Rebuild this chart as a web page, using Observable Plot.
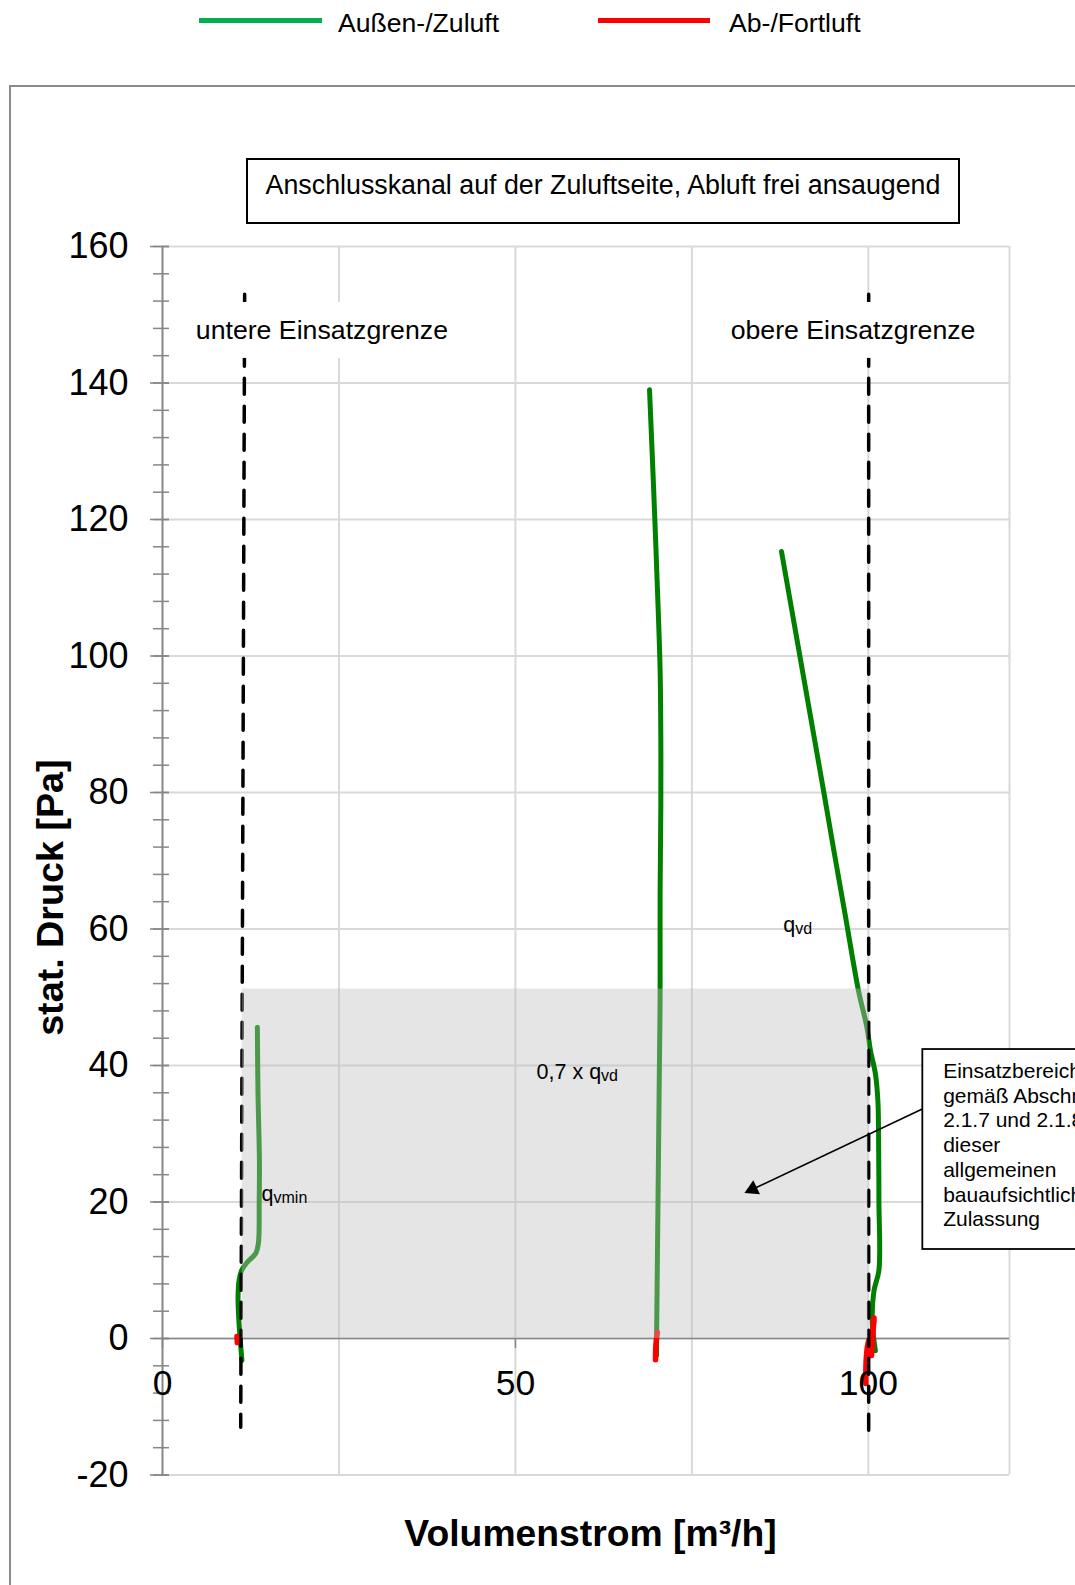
<!DOCTYPE html>
<html>
<head>
<meta charset="utf-8">
<script src="https://cdn.jsdelivr.net/npm/d3@7"></script>
<script src="https://cdn.jsdelivr.net/npm/@observablehq/plot@0.6"></script>
<style>
html, body { margin: 0; padding: 0; background: #fff; overflow: hidden; }
#page { position: relative; width: 1075px; height: 1585px; overflow: hidden; font-family: "Liberation Sans", Arial, sans-serif; color: #000; }
#frame { position: absolute; left: 9px; top: 85px; width: 1200px; height: 1700px; border: 2px solid #8a8a8a; box-sizing: border-box; }
.legline { position: absolute; top: 17.5px; height: 5px; }
.legtext { position: absolute; top: 10px; font-size: 26.6px; line-height: 26px; white-space: nowrap; }
#titlebox { position: absolute; left: 246px; top: 158px; width: 714px; height: 66px; border: 2px solid #000; box-sizing: border-box; background: #fff; }
#titlebox div { position: absolute; left: 0; right: 0; top: 12px; text-align: center; font-size: 26.8px; line-height: 26px; white-space: nowrap; }
#chart { position: absolute; left: 0; top: 0; }
</style>
</head>
<body>
<div id="page">
  <div id="frame"></div>
  <div id="chart"></div>
  <div class="legline" style="left:199px;width:123px;background:#00b050"></div>
  <div class="legtext" id="leg1" style="left:338px"></div>
  <div class="legline" style="left:598px;width:112px;background:#ff0000"></div>
  <div class="legtext" id="leg2" style="left:729px"></div>
  <div id="titlebox"><div id="title"></div></div>
</div>
<script>
// ---------- texts ----------
const legendLabels = ["Außen-/Zuluft", "Ab-/Fortluft"];
const chartTitle = "Anschlusskanal auf der Zuluftseite, Abluft frei ansaugend";
const xAxisTitle = "Volumenstrom [m³/h]";
const yAxisTitle = "stat. Druck [Pa]";
const limitLabels = ["untere Einsatzgrenze", "obere Einsatzgrenze"];
const rangeNote = "Einsatzbereich\ngemäß Abschnitt\n2.1.7 und 2.1.8\ndieser\nallgemeinen\nbauaufsichtlichen\nZulassung";

// ---------- axes ----------
const xDomain = [0, 120];
const yDomain = [-20, 160];
const xGrid = [25, 50, 75, 100, 120];
const xTickLabels = [0, 50, 100];
const yMajor = [-20, 0, 20, 40, 60, 80, 100, 120, 140, 160];
const yMinor = d3.range(-20, 161, 4);

// ---------- Außen-/Zuluft (green) ----------
const supplyMinX = [11.25, 11.0, 10.8, 10.7, 10.85, 11.22, 12.03, 13.2, 13.58, 13.7, 13.73, 13.53, 13.44];
const supplyMinY = [-3.2, 0, 3, 6, 8.5, 10.0, 11.2, 12.45, 13.9, 20, 26, 36, 45.6];
const supplyMidX = [70.0, 70.0, 70.1, 70.25, 70.4, 70.5, 70.5, 70.6, 70.6, 70.5, 70.2, 69.6, 69.0];
const supplyMidY = [-2.5, 0, 10, 25, 40, 50, 65.2, 78, 88.1, 97.9, 107.6, 124, 139];
const supplyMaxX = [101.0, 100.55, 100.8, 101.5, 101.5, 101.45, 101.35, 101.0, 100.3, 99.8, 98.6, 96.7, 95.2, 93.7, 92.0, 90.3, 87.7];
const supplyMaxY = [-1.8, 2.6, 7.0, 10.0, 20.2, 30, 34.9, 38.8, 42.2, 45.6, 51.0, 62.2, 71, 80, 90, 100, 115.3];

// ---------- Ab-/Fortluft (red) ----------
const exhaustMinX = [10.55, 10.6];
const exhaustMinY = [0.3, -0.6];
const exhaustMidX = [70.1, 69.9, 69.85];
const exhaustMidY = [0.9, -1.0, -3.1];
const exhaustMaxX = [100.8, 100.6, 100.0, 99.7, 99.65];
const exhaustMaxY = [3.0, 1.0, -0.5, -3.0, -6.6];
const exhaustMax2X = [100.75, 100.6, 100.45];
const exhaustMax2Y = [2.8, 0, -2.5];

// ---------- operating limits & range ----------
const lowerLimitX = [11.64, 11.08];
const lowerLimitY = [153, -13];
const upperLimitX = [100.05, 100.05];
const upperLimitY = [153, -13.5];
const rangeX = [11.3, 100];
const rangeY = [0, 51.2];

// ---------- build tables ----------
function rows(name, xs, ys) { return xs.map((x, i) => ({name, x, y: ys[i]})); }
const supplyRows = [
  ...rows("min", supplyMinX, supplyMinY),
  ...rows("mid", supplyMidX, supplyMidY),
  ...rows("max", supplyMaxX, supplyMaxY)
];
const exhaustRows = [
  ...rows("min", exhaustMinX, exhaustMinY),
  ...rows("mid", exhaustMidX, exhaustMidY),
  ...rows("max", exhaustMaxX, exhaustMaxY),
  ...rows("max2", exhaustMax2X, exhaustMax2Y)
];
const limitRows = [
  ...rows("lower", lowerLimitX, lowerLimitY),
  ...rows("upper", upperLimitX, upperLimitY)
];

// annotation anchors (data coordinates)
const limitLabelPos = [{x: 22.58, y: 146.5, x1: 3.97, x2: 41.09, t: limitLabels[0]},
                       {x: 97.83, y: 146.5, x1: 79.06, x2: 116.6, t: limitLabels[1]}];
const qLabels = [
  {x: 14.03, y: 20.2, main: "q", sub: "vmin", dx: 12},
  {x: 53.0, y: 37.95, main: "0,7 x q", sub: "vd", dx: 64.5},
  {x: 87.94, y: 59.5, main: "q", sub: "vd", dx: 12}
];
const noteBox = {x1: 107.72, x2: 130, y1: 13.04, y2: 42.34, tx: 110.6, ty: 40.73};
const noteArrow = {x1: 107.72, y1: 33.66, x2: 83.6, y2: 21.87, rotate: 244.7};

document.getElementById("leg1").textContent = legendLabels[0];
document.getElementById("leg2").textContent = legendLabels[1];
document.getElementById("title").textContent = chartTitle;

const gray = "#868686";
const grid = "#d9d9d9";

const chart = Plot.plot({
  width: 1075,
  height: 1585,
  marginLeft: 162,
  marginRight: 66,
  marginTop: 246,
  marginBottom: 110.5,
  x: {domain: xDomain, axis: null},
  y: {domain: yDomain, axis: null},
  style: {fontFamily: "'Liberation Sans', Arial, sans-serif", background: "transparent", color: "#000", overflow: "visible"},
  marks: [
    Plot.ruleX(xGrid, {x: d => d, y1: yDomain[0], y2: yDomain[1], stroke: grid, strokeWidth: 2}),
    Plot.ruleY(yMajor, {y: d => d, x1: xDomain[0], x2: xDomain[1], stroke: grid, strokeWidth: 2}),
    Plot.ruleY([0], {y: d => d, x1: xDomain[0], x2: xDomain[1], stroke: gray, strokeWidth: 1.5}),
    Plot.ruleX(xTickLabels, {x: d => d, y1: 0, y2: -1.47, stroke: gray, strokeWidth: 1.5}),
    Plot.line(supplyRows, {x: "x", y: "y", z: "name", stroke: "#008000", strokeWidth: 5, curve: "catmull-rom", strokeLinecap: "round", strokeLinejoin: "round"}),
    Plot.line(exhaustRows, {x: "x", y: "y", z: "name", stroke: "#ff0000", strokeWidth: 5.5, curve: "catmull-rom", strokeLinecap: "round", strokeLinejoin: "round"}),
    Plot.line(limitRows, {x: "x", y: "y", z: "name", stroke: "#000", strokeWidth: 3.5, strokeDasharray: "16,12"}),
    Plot.rect([{x1: rangeX[0], x2: rangeX[1], y1: rangeY[0], y2: rangeY[1]}], {x1: "x1", x2: "x2", y1: "y1", y2: "y2", fill: "#bdbdbd", fillOpacity: 0.4}),
    Plot.rect(limitLabelPos, {x1: "x1", x2: "x2", y1: () => 143.6, y2: () => 151.8, fill: "white"}),
    Plot.text(limitLabelPos, {x: "x", y: "y", text: "t", fontSize: 26.7, lineAnchor: "bottom", textAnchor: "middle", fill: "#000"}),
    Plot.ruleX([0], {x: d => d, y1: yDomain[0], y2: yDomain[1], stroke: gray, strokeWidth: 2}),
    Plot.axisY(yMinor, {anchor: "left", tickSize: 16, dx: 7, tickFormat: () => "", stroke: gray, strokeWidth: 1.5, label: null}),
    Plot.axisY(yMajor, {anchor: "left", tickSize: 19, dx: 7, tickFormat: () => "", stroke: gray, strokeWidth: 1.5, label: null}),
    Plot.text(yMajor, {y: d => d, text: d => String(d), frameAnchor: "left", dx: -34, dy: 0, textAnchor: "end", lineAnchor: "middle", fontSize: 36, fill: "#000"}),
    Plot.text(xTickLabels, {x: d => d, y: () => 0, text: d => String(d), dy: 44.8, textAnchor: "middle", lineAnchor: "middle", fontSize: 35.5, fill: "#000"}),
    Plot.text(qLabels, {x: "x", y: "y", text: "main", fontSize: 21.5, textAnchor: "start", lineAnchor: "bottom", fill: "#000"}),
    Plot.text(qLabels, {x: "x", y: "y", text: "sub", fontSize: 16, textAnchor: "start", lineAnchor: "bottom", fill: "#000",
      render: (index, scales, values, dims, ctx, next) => {
        const g = next(index, scales, values, dims, ctx);
        d3.select(g).selectAll("text").each(function(i) {
          const t = d3.select(this);
          const tr = t.attr("transform") || "";
          t.attr("transform", tr + ` translate(${qLabels[i].dx},2)`);
        });
        return g;
      }}),
    Plot.rect([noteBox], {x1: "x1", x2: "x2", y1: "y1", y2: "y2", fill: "white", stroke: "#000", strokeWidth: 1.8}),
    Plot.text([noteBox], {x: "tx", y: "ty", text: () => rangeNote, fontSize: 21, lineHeight: 1.176, textAnchor: "start", lineAnchor: "top", fill: "#000"}),
    Plot.link([noteArrow], {x1: "x1", y1: "y1", x2: "x2", y2: "y2", stroke: "#000", strokeWidth: 1.6}),
    Plot.dot([noteArrow], {x: "x2", y: "y2", symbol: "triangle", r: 5.8, fill: "#000", stroke: null, rotate: "rotate"}),
    Plot.text([yAxisTitle], {frameAnchor: "left", y: () => 64.6, dx: -112, rotate: -90, text: d => d, fontSize: 37.7, fontWeight: "bold", textAnchor: "middle", lineAnchor: "middle", fill: "#000"}),
    Plot.text([xAxisTitle], {frameAnchor: "bottom", text: d => d, dx: 4.5, dy: 70.5, fontSize: 37.3, fontWeight: "bold", textAnchor: "middle", lineAnchor: "bottom", fill: "#000"})
  ]
});
document.getElementById("chart").appendChild(chart);
</script>
</body>
</html>
